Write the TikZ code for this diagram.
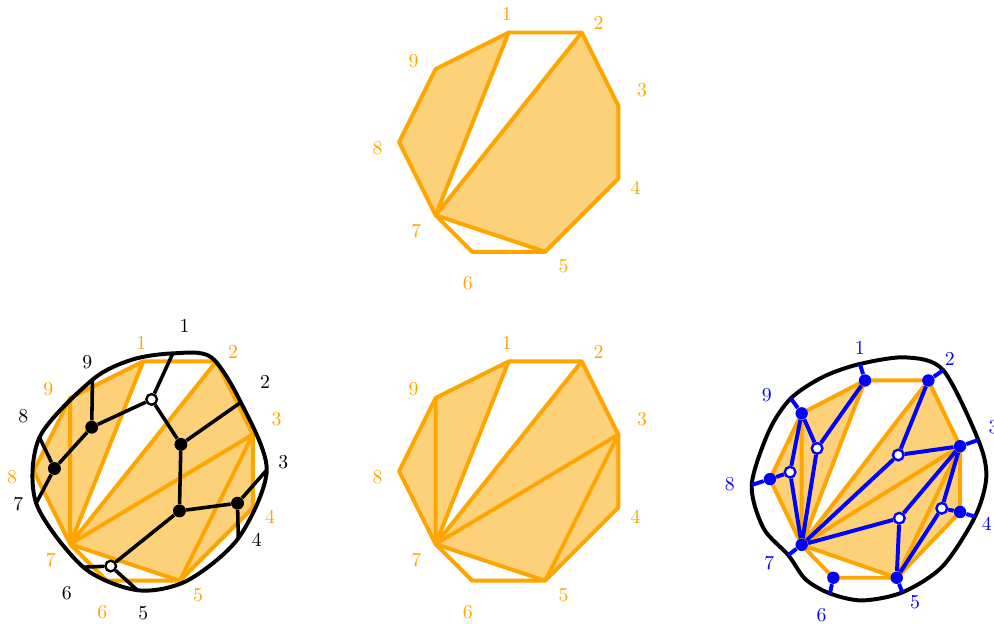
\documentclass[tikz,border=0pt]{standalone}
\usepackage{amsmath}

\definecolor{polyline}{RGB}{255,165,0}
\definecolor{polyfill}{RGB}{253,209,122}

% corners of the nonagon, names prefixed by #1
\newcommand{\corners}[1]{%
  \coordinate (#1-1) at (3,3);
  \coordinate (#1-2) at (5,3);
  \coordinate (#1-3) at (6,1);
  \coordinate (#1-4) at (6,-1);
  \coordinate (#1-5) at (4,-3);
  \coordinate (#1-6) at (2,-3);
  \coordinate (#1-7) at (1,-2);
  \coordinate (#1-8) at (0,0);
  \coordinate (#1-9) at (1,2);
}

% orange numbers beside the corners
\newcommand{\cornerlabels}[1]{%
  \node[olab] (#1-n1) at (2.95,3.50) {1};
  \node[olab] (#1-n2) at (5.46,3.27) {2};
  \node[olab] (#1-n3) at (6.65,1.42) {3};
  \node[olab] (#1-n4) at (6.47,-1.26) {4};
  \node[olab] (#1-n5) at (4.50,-3.40) {5};
  \node[olab] (#1-n6) at (1.88,-3.85) {6};
  \node[olab] (#1-n7) at (0.47,-2.44) {7};
  \node[olab] (#1-n8) at (-0.59,-0.17) {8};
  \node[olab] (#1-n9) at (0.40,2.23) {9};
}

\begin{document}
\begin{tikzpicture}[x=0.65cm, y=0.65cm,
  poly/.style={draw=polyline, line width=2pt, line join=round},
  region/.style={fill=polyfill},
  olab/.style={text=polyline},
  blab/.style={text=blue},
  rim/.style={line width=2pt},
  wire/.style={line width=1.8pt},
  bwire/.style={blue, line width=2pt},
  bdot/.style={circle, fill=black, inner sep=0pt, minimum size=2.3mm},
  wdot/.style={circle, draw=black, fill=white, line width=1.2pt, inner sep=0pt, minimum size=1.9mm},
  bbdot/.style={circle, fill=blue, inner sep=0pt, minimum size=2.2mm},
  bwdot/.style={circle, draw=blue, fill=white, line width=1.2pt, inner sep=0pt, minimum size=1.9mm}]

  \useasboundingbox (-10.92,-4.16) rectangle (16.28,12.89);

  % Top: three diagonals from 7
  \begin{scope}[shift={(0,9)}]
    \corners{t}
    \fill[region] (t-7) -- (t-8) -- (t-9) -- (t-1) -- cycle;
    \fill[region] (t-7) -- (t-2) -- (t-3) -- (t-4) -- (t-5) -- cycle;
    \draw[poly] (t-1) -- (t-2) -- (t-3) -- (t-4) -- (t-5) -- (t-6) -- (t-7) -- (t-8) -- (t-9) -- cycle;
    \draw[poly] (t-7) -- (t-1) (t-7) -- (t-2) (t-7) -- (t-5);
    \cornerlabels{t}
  \end{scope}

  % Middle: full triangulation
  \corners{m}
  \fill[region] (m-7) -- (m-8) -- (m-9) -- (m-1) -- cycle;
  \fill[region] (m-7) -- (m-2) -- (m-3) -- (m-4) -- (m-5) -- cycle;
  \draw[poly] (m-1) -- (m-2) -- (m-3) -- (m-4) -- (m-5) -- (m-6) -- (m-7) -- (m-8) -- (m-9) -- cycle;
  \draw[poly] (m-7) -- (m-9) (m-7) -- (m-1) (m-7) -- (m-2) (m-7) -- (m-3) (m-3) -- (m-5) (m-7) -- (m-5);
  \cornerlabels{m}

  % Left: triangulation with the black and white graph
  \begin{scope}[shift={(-10,0)}]
    \corners{l}
    \fill[region] (l-7) -- (l-8) -- (l-9) -- (l-1) -- cycle;
    \fill[region] (l-7) -- (l-2) -- (l-3) -- (l-4) -- (l-5) -- cycle;
    \draw[poly] (l-1) -- (l-2) -- (l-3) -- (l-4) -- (l-5) -- (l-6) -- (l-7) -- (l-8) -- (l-9) -- cycle;
    \draw[poly] (l-7) -- (l-9) (l-7) -- (l-1) (l-7) -- (l-2) (l-7) -- (l-3) (l-3) -- (l-5) (l-7) -- (l-5);
    \cornerlabels{l}

    % boundary points on the rim
    \coordinate (lb1) at (3.81,3.22);
    \coordinate (lb2) at (5.67,1.88);
    \coordinate (lb3) at (6.38,0.03);
    \coordinate (lb4) at (5.60,-1.84);
    \coordinate (lb5) at (2.84,-3.26);
    \coordinate (lb6) at (1.36,-2.63);
    \coordinate (lb7) at (0.07,-0.88);
    \coordinate (lb8) at (0.16,0.92);
    \coordinate (lb9) at (1.61,2.50);
    \draw[rim] plot[smooth cycle] coordinates {(lb1) (4.85,3.12) (lb2) (lb3) (lb4) (4.20,-3.00) (lb5) (lb6) (lb7) (lb8) (lb9) (2.70,3.05)};

    \node[bdot] (B1) at (1.59,1.20) {};
    \node[bdot] (B2) at (0.57,0.07) {};
    \node[bdot] (B3) at (4.03,0.73) {};
    \node[bdot] (B4) at (3.99,-1.09) {};
    \node[bdot] (B5) at (5.58,-0.88) {};
    \node[wdot] (W1) at (3.23,1.96) {};
    \node[wdot] (W2) at (2.11,-2.60) {};

    \draw[wire] (W1) -- (lb1) (W1) -- (B1) (W1) -- (B3) (B1) -- (lb9) (B1) -- (B2)
      (B2) -- (lb8) (B2) -- (lb7) (B3) -- (lb2) (B3) -- (B4) (B4) -- (B5)
      (B5) -- (lb3) (B5) -- (lb4) (B4) -- (W2) (W2) -- (lb6) (W2) -- (lb5);

    \node (k1) at (4.13,3.97) {1};
    \node (k2) at (6.33,2.44) {2};
    \node (k3) at (6.83,0.25) {3};
    \node (k4) at (6.11,-1.89) {4};
    \node (k5) at (3.00,-3.89) {5};
    \node (k6) at (0.91,-3.33) {6};
    \node (k7) at (-0.42,-0.90) {7};
    \node (k8) at (-0.28,1.50) {8};
    \node (k9) at (1.47,2.99) {9};
  \end{scope}

  % Right: smaller triangulation with the blue graph
  \begin{scope}[shift={(9.67,-0.11)}]
    \begin{scope}[shift={(0.48,-0.11)}, xscale=0.867, yscale=0.9]
      \corners{r}
    \end{scope}
    \fill[region] (r-7) -- (r-8) -- (r-9) -- (r-1) -- cycle;
    \fill[region] (r-7) -- (r-2) -- (r-3) -- (r-4) -- (r-5) -- cycle;
    \draw[poly] (r-1) -- (r-2) -- (r-3) -- (r-4) -- (r-5) -- (r-6) -- (r-7) -- (r-8) -- (r-9) -- cycle;
    \draw[poly] (r-7) -- (r-9) (r-7) -- (r-1) (r-7) -- (r-2) (r-7) -- (r-3) (r-3) -- (r-5) (r-7) -- (r-5);

    % boundary points on the rim
    \coordinate (rb1) at (2.94,3.04);
    \coordinate (rb2) at (5.22,2.87);
    \coordinate (rb3) at (6.18,0.96);
    \coordinate (rb4) at (6.09,-1.14);
    \coordinate (rb5) at (4.10,-3.21);
    \coordinate (rb6) at (2.12,-3.24);
    \coordinate (rb7) at (0.98,-2.19);
    \coordinate (rb8) at (-0.02,-0.27);
    \coordinate (rb9) at (1.05,2.10);
    \draw[rim] plot[smooth cycle] coordinates {(rb1) (4.20,3.22) (rb2) (rb3) (6.40,-0.05) (rb4) (5.20,-2.50) (rb5) (3.00,-3.43) (rb6) (1.45,-2.85) (rb7) (0.30,-1.45) (rb8) (0.45,1.20) (rb9) (1.94,2.69)};

    \node[bbdot] (R1) at (r-1) {};
    \node[bbdot] (R2) at (r-2) {};
    \node[bbdot] (R3) at (r-3) {};
    \node[bbdot] (R4) at (r-4) {};
    \node[bbdot] (R5) at (r-5) {};
    \node[bbdot] (R6) at (r-6) {};
    \node[bbdot] (R7) at (r-7) {};
    \node[bbdot] (R8) at (r-8) {};
    \node[bbdot] (R9) at (r-9) {};
    \node[bwdot] (WA) at (1.77,0.73) {};
    \node[bwdot] (WB) at (1.03,0.08) {};
    \node[bwdot] (WC) at (3.99,0.55) {};
    \node[bwdot] (WD) at (4.02,-1.18) {};
    \node[bwdot] (WE) at (5.18,-0.91) {};

    \draw[bwire] (R1) -- (rb1) (R2) -- (rb2) (R3) -- (rb3) (R4) -- (rb4) (R5) -- (rb5)
      (R6) -- (rb6) (R7) -- (rb7) (R8) -- (rb8) (R9) -- (rb9);
    \draw[bwire] (WA) -- (R9) (WA) -- (R1) (WA) -- (R7)
      (WB) -- (R8) (WB) -- (R9) (WB) -- (R7)
      (WC) -- (R7) (WC) -- (R2) (WC) -- (R3)
      (WD) -- (R7) (WD) -- (R3) (WD) -- (R5)
      (WE) -- (R3) (WE) -- (R4) (WE) -- (R5);

    \node[blab] (s1) at (2.94,3.49) {1};
    \node[blab] (s2) at (5.40,3.19) {2};
    \node[blab] (s3) at (6.60,1.32) {3};
    \node[blab] (s4) at (6.41,-1.32) {4};
    \node[blab] (s5) at (4.45,-3.47) {5};
    \node[blab] (s6) at (1.89,-3.83) {6};
    \node[blab] (s7) at (0.46,-2.42) {7};
    \node[blab] (s8) at (-0.62,-0.25) {8};
    \node[blab] (s9) at (0.39,2.19) {9};
  \end{scope}

\end{tikzpicture}
\end{document}
